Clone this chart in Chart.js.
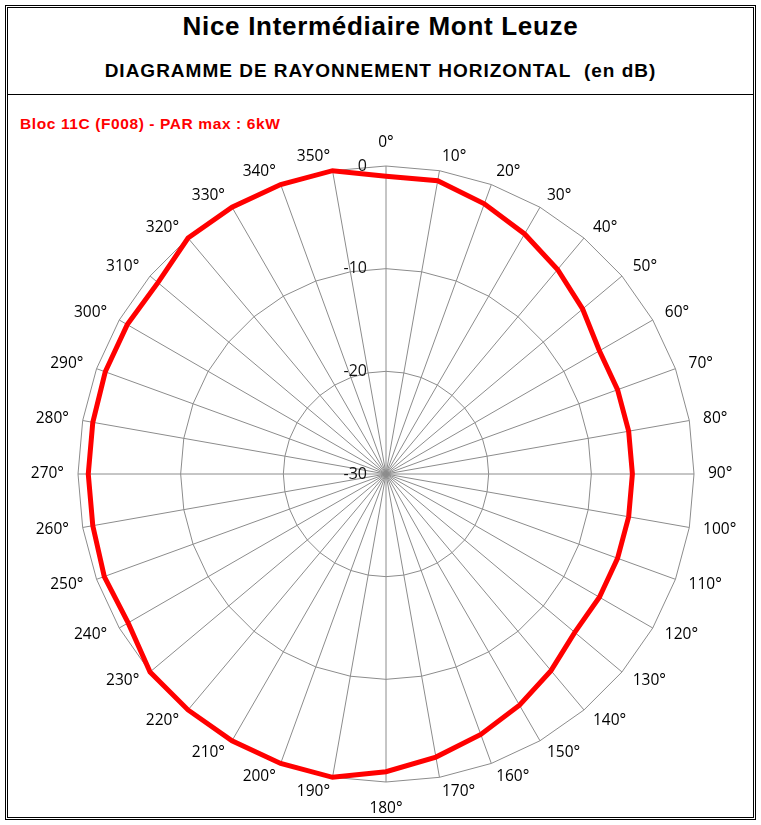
<!DOCTYPE html>
<html>
<head>
<meta charset="utf-8">
<script src="https://cdn.jsdelivr.net/npm/chart.js@4/dist/chart.umd.min.js"></script>
<style>
  body { margin: 0; background: #fff; }
  #frame {
    position: absolute; left: 5px; top: 5px;
    width: 745px; height: 809px;
    border: 3px double #000;
    font-family: "Liberation Sans", Arial, sans-serif;
  }
  #head {
    height: 86px; border-bottom: 1px solid #000; text-align: center;
  }
  #title { font-size: 26px; font-weight: bold; padding-top: 3px; letter-spacing: 0.7px; }
  #subtitle { font-size: 19px; font-weight: bold; margin-top: 18px; letter-spacing: 1px; }
  #tag {
    position: absolute; left: 12px; top: 107px;
    color: #ff0000; font-size: 15.5px; font-weight: bold; letter-spacing: 0.6px;
  }
  #wrap { position: absolute; left: 20px; top: 126px; width: 732px; height: 692px; }
</style>
</head>
<body>
<div id="frame">
  <div id="head">
    <div id="title">Nice Intermédiaire Mont Leuze</div>
    <div id="subtitle">DIAGRAMME DE RAYONNEMENT HORIZONTAL&nbsp; (en dB)</div>
  </div>
  <div id="tag">Bloc 11C (F008) - PAR max : 6kW</div>
</div>
<div id="wrap"><canvas id="chart"></canvas></div>
<script>
// azimuths every 10 degrees
const angles = ["0°", "10°", "20°", "30°", "40°", "50°", "60°", "70°", "80°", "90°",
  "100°", "110°", "120°", "130°", "140°", "150°", "160°", "170°", "180°",
  "190°", "200°", "210°", "220°", "230°", "240°", "250°", "260°", "270°",
  "280°", "290°", "300°", "310°", "320°", "330°", "340°", "350°"];

// attenuation in dB
const attenuation = [-1, -1, -2, -3, -4, -5, -6, -6, -6, -6,
  -6, -6, -6, -6, -5, -4, -3, -2, -1,
  0, 0, 0, 0, 0, -1, -0.8, -1, -1,
  -1, -0.9, -0.9, -1, 0, 0, 0, 0];

const tickValues = [-30, -20, -10, 0];

// tick labels sit left of the 0° spoke, vertically centred on each ring
const tickLabels = {
  id: "tickLabels",
  beforeDatasetsDraw(chart) {
    const scale = chart.scales.r;
    const ctx = chart.ctx;
    ctx.save();
    ctx.font = "16px 'Open Sans'";
    ctx.fillStyle = "#111";
    ctx.textAlign = "right";
    ctx.textBaseline = "middle";
    tickValues.forEach((v) => {
      const d = scale.getDistanceFromCenterForValue(v);
      ctx.fillText(String(v), scale.xCenter - 19, scale.yCenter - d);
    });
    ctx.restore();
  },
};

// angle labels anchored Excel-style: side labels by their inner middle edge
const angleLabels = {
  id: "angleLabels",
  afterDraw(chart) {
    const scale = chart.scales.r;
    const ctx = chart.ctx;
    ctx.save();
    ctx.font = "15.5px 'Open Sans'";
    ctx.fillStyle = "#000";
    chart.data.labels.forEach((lab, i) => {
      const p = scale.getPointPosition(i, scale.drawingArea + 14);
      const deg = i * 360 / chart.data.labels.length;
      let dy = 0;
      if (deg === 0) { ctx.textAlign = "center"; dy = -9; }
      else if (deg === 180) { ctx.textAlign = "center"; dy = 13; }
      else if (deg < 180) ctx.textAlign = "left";
      else ctx.textAlign = "right";
      ctx.textBaseline = "middle";
      ctx.fillText(lab, p.x, p.y + dy);
    });
    ctx.restore();
  },
};

new Chart(document.getElementById("chart"), {
  type: "radar",
  data: {
    labels: angles,
    datasets: [
      {
        label: "Bloc 11C",
        data: attenuation,
        borderColor: "#ff0000",
        borderWidth: 5,
        pointRadius: 0,
        fill: false,
        tension: 0,
      },
    ],
  },
  options: {
    responsive: true,
    maintainAspectRatio: false,
    animation: false,
    layout: { padding: { left: 58, right: 58, top: 40, bottom: 36 } },
    plugins: { legend: { display: false }, tooltip: { enabled: false } },
    scales: {
      r: {
        min: -30,
        max: 0,
        ticks: { display: false, stepSize: 10 },
        grid: { color: "#8c8c8c", lineWidth: 1 },
        angleLines: { color: "#8c8c8c", lineWidth: 1 },
        pointLabels: { display: false },
      },
    },
  },
  plugins: [tickLabels, angleLabels],
});
</script>
</body>
</html>
